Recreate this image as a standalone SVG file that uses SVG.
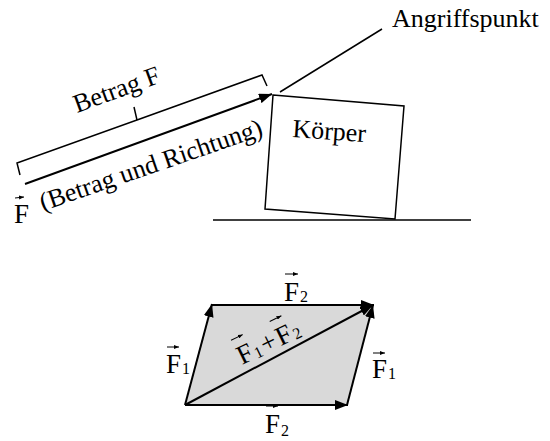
<svg xmlns="http://www.w3.org/2000/svg" width="550" height="441" viewBox="0 0 550 441" font-family="'Liberation Serif','Times New Roman',serif">
<defs>
<marker id="ah" markerUnits="userSpaceOnUse" markerWidth="14" markerHeight="10" refX="13" refY="5" orient="auto">
<path d="M0,0 L13,5 L0,10 z" fill="#000"/>
</marker>
<marker id="sah" markerUnits="userSpaceOnUse" markerWidth="5" markerHeight="4" refX="5" refY="2" orient="auto">
<path d="M0,0 L5,2 L0,4 z" fill="#000"/>
</marker>
<style>
text{font-family:"Liberation Serif","Times New Roman",serif;fill:#000;}
.t{font-size:26px;}
.v{font-size:27px;}
.s{font-size:16px;}
.ln{stroke:#000;stroke-width:1.5;fill:none;}
.ar{stroke:#000;stroke-width:2;fill:none;marker-end:url(#ah);}
.va{stroke:#000;stroke-width:1;fill:none;marker-end:url(#sah);}
</style>
</defs>
<rect width="550" height="441" fill="#fff"/>

<g id="ground"><line class="ln" x1="213" y1="220" x2="471" y2="220" stroke-width="2"/></g>

<g id="koerper">
<polygon class="ln" points="273,95 404,106 395,219 265,209"/>
<text class="t" transform="translate(292,137) rotate(4)">Körper</text>
</g>

<g id="angriffspunkt">
<text class="t" x="392" y="27" font-size="25.5">Angriffspunkt</text>
</g>

<g id="betrag">
<text class="t" transform="translate(77,113) rotate(-20)">Betrag F</text>
</g>

<g id="richtung">
<text class="t" transform="translate(43,211) rotate(-19)">(Betrag und Richtung)</text>
</g>

<g id="fvec">
<text class="v" x="14" y="223">F</text>
<line class="va" x1="15" y1="198" x2="24" y2="197"/>
</g>

<g id="parallelogram">
<polygon points="185,405 347,405 373,305 212,305" fill="#d9d9d9"/>
</g>

<g id="connectors">
<line class="ln" x1="280" y1="92" x2="382" y2="29" stroke-width="1.2"/>
<path class="ln" d="M20,175 L17,163 L137,120 L134,107 M137,120 L262,75 L267,86" stroke-width="2"/>
<line class="ar" x1="25" y1="184" x2="272" y2="94"/>
<line class="ar" x1="185" y1="405" x2="348" y2="405"/>
<line class="ar" x1="185" y1="405" x2="212" y2="304"/>
<line class="ar" x1="212" y1="305" x2="374" y2="305"/>
<line class="ar" x1="347" y1="405" x2="373" y2="305"/>
<line class="ar" x1="185" y1="405" x2="373" y2="305"/>
</g>

<g id="lbl-top-f2">
<text class="v" x="284" y="301">F</text><text class="s" x="300" y="302">2</text>
<line class="va" x1="285" y1="274" x2="298" y2="274"/>
</g>
<g id="lbl-bottom-f2">
<text class="v" x="265" y="433">F</text><text class="s" x="281" y="436">2</text>
<line class="va" x1="266" y1="406" x2="278" y2="406"/>
</g>
<g id="lbl-left-f1">
<text class="v" x="166" y="373">F</text><text class="s" x="182" y="374">1</text>
<line class="va" x1="167" y1="347" x2="179" y2="347"/>
</g>
<g id="lbl-right-f1">
<text class="v" x="372" y="378">F</text><text class="s" x="388" y="379">1</text>
<line class="va" x1="373" y1="353" x2="385" y2="353"/>
</g>
<g id="lbl-sum" transform="translate(242,365) rotate(-26)">
<text class="v" x="0" y="0" font-size="29">F</text><text class="s" x="16.5" y="1" font-size="17">1</text>
<text class="v" x="26" y="0" font-size="29">+</text>
<text class="v" x="43" y="0" font-size="29">F</text><text class="s" x="59.5" y="1" font-size="17">2</text>
<line class="va" x1="1" y1="-27" x2="14" y2="-27"/>
<line class="va" x1="44" y1="-27" x2="57" y2="-27"/>
</g>
</svg>
